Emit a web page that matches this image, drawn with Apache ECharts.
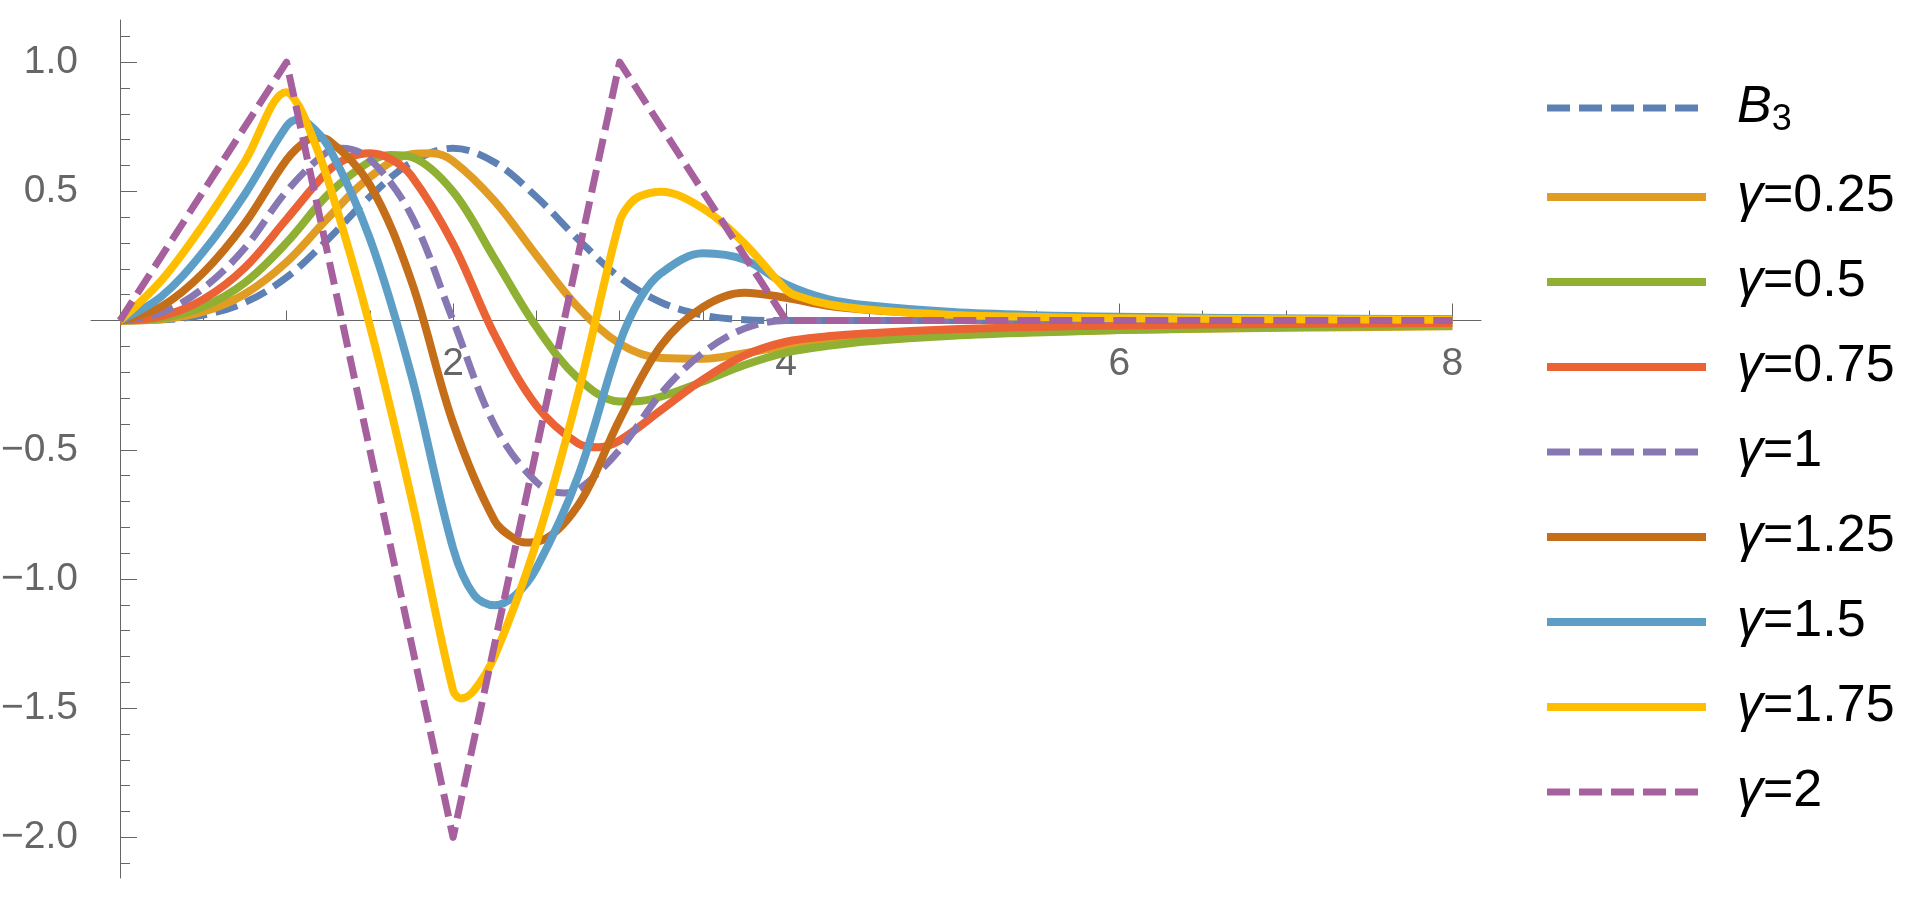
<!DOCTYPE html>
<html>
<head>
<meta charset="utf-8">
<script src="https://cdn.jsdelivr.net/npm/echarts@6.0.0/dist/echarts.min.js"></script>
<style>
html, body { margin: 0; padding: 0; background: #fff; }
#main { width: 1918px; height: 900px; }
</style>
</head>
<body>
<div id="main"></div>
<script>
/*---------------数据---分割线--------------------*/
// 刻度
var xMajor = [2, 4, 6, 8];
var xMinor = [0.5, 1, 1.5, 2.5, 3, 3.5, 4.5, 5, 5.5, 6.5, 7, 7.5];
var yMajor = [-2, -1.5, -1, -0.5, 0.5, 1];
var yMinor = [-2.1, -1.9, -1.8, -1.7, -1.6, -1.4, -1.3, -1.2, -1.1, -0.9, -0.8, -0.7, -0.6,
	-0.4, -0.3, -0.2, -0.1, 0.1, 0.2, 0.3, 0.4, 0.6, 0.7, 0.8, 0.9, 1.1];

var names = ['B3', 'γ=0.25', 'γ=0.5', 'γ=0.75', 'γ=1', 'γ=1.25', 'γ=1.5', 'γ=1.75', 'γ=2'];
var colors = ['#5E81B5', '#E19C24', '#8FB032', '#EB6235', '#8778B3', '#C56E1A', '#5D9EC7', '#FFBF00', '#A5609D'];
var dashed = [true, false, false, false, true, false, false, false, true];

// [x, y]
var b3 = [[0, 0], [0.25, 0.003], [0.5, 0.021], [0.75, 0.070], [1, 0.167], [1.25, 0.315], [1.5, 0.479],
	[1.75, 0.612], [2, 0.667], [2.25, 0.612], [2.5, 0.479], [2.75, 0.315], [3, 0.167], [3.25, 0.070],
	[3.5, 0.021], [3.75, 0.003], [4, 0], [8, 0]];
var g025 = [[0, 0], [0.25, 0.005], [0.5, 0.034], [0.75, 0.103], [1, 0.226], [1.25, 0.398], [1.5, 0.555],
	[1.75, 0.644], [1.875, 0.647], [2, 0.617], [2.25, 0.462], [2.5, 0.253], [2.75, 0.052], [3, -0.089],
	[3.25, -0.145], [3.5, -0.148], [3.75, -0.126], [4, -0.100], [4.25, -0.083], [4.5, -0.071],
	[5, -0.055], [5.5, -0.044], [6, -0.037], [7, -0.028], [8, -0.022]];
var g05 = [[0, 0], [0.25, 0.009], [0.5, 0.053], [0.75, 0.147], [1, 0.301], [1.25, 0.488], [1.5, 0.616],
	[1.625, 0.641], [1.75, 0.633], [2, 0.499], [2.25, 0.239], [2.5, -0.024], [2.75, -0.223], [3, -0.313],
	[3.125, -0.311], [3.25, -0.294], [3.5, -0.236], [3.75, -0.172], [4, -0.124], [4.25, -0.098],
	[4.5, -0.080], [5, -0.059], [5.5, -0.046], [6, -0.037], [7, -0.026], [8, -0.020]];
var g075 = [[0, 0], [0.25, 0.017], [0.5, 0.082], [0.75, 0.205], [1, 0.392], [1.25, 0.579], [1.375, 0.630],
	[1.5, 0.647], [1.625, 0.625], [1.75, 0.560], [2, 0.297], [2.25, -0.056], [2.5, -0.329], [2.75, -0.475],
	[2.875, -0.490], [3, -0.464], [3.25, -0.346], [3.5, -0.228], [3.75, -0.135], [4, -0.082],
	[4.25, -0.061], [4.5, -0.049], [5, -0.034], [5.5, -0.025], [6, -0.019], [7, -0.013], [8, -0.009]];
var g1 = [[0, 0], [0.25, 0.031], [0.5, 0.125], [0.75, 0.281], [1, 0.5], [1.25, 0.656], [1.333, 0.667],
	[1.5, 0.625], [1.75, 0.406], [2, 0], [2.25, -0.406], [2.5, -0.625], [2.667, -0.667], [2.75, -0.656],
	[3, -0.5], [3.25, -0.281], [3.5, -0.125], [3.75, -0.031], [4, 0], [8, 0]];
var g125 = [[0, 0], [0.25, 0.055], [0.5, 0.185], [0.75, 0.376], [1, 0.622], [1.125, 0.699], [1.1875, 0.707],
	[1.25, 0.699], [1.5, 0.525], [1.75, 0.152], [2, -0.396], [2.25, -0.775], [2.375, -0.847],
	[2.4375, -0.859], [2.5, -0.857], [2.75, -0.716], [3, -0.383], [3.25, -0.096], [3.5, 0.052],
	[3.75, 0.108], [4, 0.088], [4.25, 0.057], [4.5, 0.041], [5, 0.025], [5.5, 0.017], [6, 0.012],
	[7, 0.007], [8, 0.005]];
var g15 = [[0, 0], [0.25, 0.094], [0.5, 0.266], [0.75, 0.489], [1, 0.752], [1.0667, 0.777], [1.125, 0.765],
	[1.25, 0.675], [1.5, 0.318], [1.75, -0.213], [2, -0.881], [2.125, -1.061], [2.25, -1.102],
	[2.375, -1.062], [2.5, -0.959], [2.75, -0.604], [3, -0.088], [3.125, 0.087], [3.25, 0.184],
	[3.5, 0.260], [3.75, 0.235], [4, 0.140], [4.25, 0.083], [4.5, 0.058], [5, 0.033], [5.5, 0.021],
	[6, 0.015], [7, 0.008], [8, 0.005]];
var g175 = [[0, 0], [0.25, 0.156], [0.5, 0.371], [0.75, 0.616], [1, 0.883], [1.0625, 0.842], [1.125, 0.760],
	[1.25, 0.542], [1.5, -0.019], [1.75, -0.688], [2, -1.431], [2.048, -1.462], [2.125, -1.432],
	[2.25, -1.298], [2.5, -0.860], [2.75, -0.284], [3, 0.384], [3.0625, 0.452], [3.125, 0.482],
	[3.25, 0.498], [3.5, 0.434], [3.75, 0.298], [4, 0.119], [4.0625, 0.096], [4.25, 0.063], [4.5, 0.042],
	[5, 0.022], [5.5, 0.014], [6, 0.009], [7, 0.005], [8, 0.003]];
var g2 = [[0, 0], [1, 1], [2, -2], [3, 1], [4, 0], [8, 0]];

var allData = [b3, g025, g05, g075, g1, g125, g15, g175, g2];

/*---------------设置---分割线--------------------*/
var font = '"Liberation Sans", Arial, sans-serif';
var gray = '#666666';

function setSeries() {
	var series = [];
	allData.forEach(function (data, i) {
		series.push({
			name: names[i],
			type: 'line',
			xAxisIndex: 0,
			yAxisIndex: 0,
			data: data,
			symbol: 'none',
			smooth: i === 8 ? false : 0.35,
			silent: true,
			lineStyle: {
				color: colors[i],
				width: dashed[i] ? 7 : 8,
				type: dashed[i] ? [23, 9] : 'solid',
				cap: 'butt',
				join: 'round'
			},
			itemStyle: { color: colors[i] },
			emphasis: { disabled: true }
		});
	});
	return series;
}

function yFmt(v) {
	return (v < 0 ? '\u2212' : '') + Math.abs(v).toFixed(1);
}

echarts.init(document.getElementById('main')).setOption({
	backgroundColor: '#ffffff',
	animation: false,
	grid: {
		left: 91,
		top: 20,
		width: 1390,
		height: 858,
		outerBoundsMode: 'none'
	},
	legend: {
		data: names,
		orient: 'vertical',
		left: 1543,
		top: 78,
		padding: 0,
		itemWidth: 159,
		itemHeight: 8,
		itemGap: 33,
		selectedMode: false,
		itemStyle: { opacity: 0 },
		lineStyle: { width: 'inherit' },
		formatter: function (name) {
			if (name === 'B3') {
				return '{sp| }{b|B}{s|3}';
			}
			return '{sp| }{g|γ}{n|' + name.slice(1) + '}';
		},
		textStyle: {
			fontFamily: font,
			fontSize: 52,
			color: '#000',
			rich: {
				sp: { width: 26, fontSize: 52, lineHeight: 60 },
				b: { fontStyle: 'italic', fontSize: 52, lineHeight: 60, fontFamily: font, color: '#000' },
				g: { fontStyle: 'italic', fontSize: 52, lineHeight: 60, fontFamily: font, color: '#000' },
				n: { fontSize: 52, lineHeight: 60, fontFamily: font, color: '#000' },
				s: { fontSize: 36, lineHeight: 36, padding: [24, 0, 0, 0], verticalAlign: 'bottom', fontFamily: font, color: '#000' }
			}
		}
	},
	xAxis: [{
		type: 'value',
		position: 'bottom',
		min: -0.174,
		max: 8.172,
		axisLine: { show: true, onZero: true, onZeroAxisIndex: 0, lineStyle: { color: gray, width: 1 } },
		axisTick: { show: true, inside: true, length: 17, customValues: xMajor, lineStyle: { color: gray, width: 1 } },
		axisLabel: { show: true, customValues: xMajor, margin: -533, fontSize: 39, color: gray, fontFamily: font },
		splitLine: { show: false }
	}, {
		type: 'value',
		position: 'bottom',
		min: -0.174,
		max: 8.172,
		axisLine: { show: false, onZero: true, onZeroAxisIndex: 0 },
		axisTick: { show: true, inside: true, length: 10, customValues: xMinor, lineStyle: { color: gray, width: 1 } },
		axisLabel: { show: false },
		splitLine: { show: false }
	}],
	yAxis: [{
		type: 'value',
		position: 'left',
		min: -2.157,
		max: 1.163,
		axisLine: { show: true, onZero: true, onZeroAxisIndex: 0, lineStyle: { color: gray, width: 1 } },
		axisTick: { show: true, inside: true, length: 17, customValues: yMajor, lineStyle: { color: gray, width: 1 } },
		axisLabel: { show: true, customValues: yMajor, formatter: yFmt, margin: 13, fontSize: 39, color: gray, fontFamily: font },
		splitLine: { show: false }
	}, {
		type: 'value',
		position: 'left',
		min: -2.157,
		max: 1.163,
		axisLine: { show: false, onZero: true, onZeroAxisIndex: 0 },
		axisTick: { show: true, inside: true, length: 10, customValues: yMinor, lineStyle: { color: gray, width: 1 } },
		axisLabel: { show: false },
		splitLine: { show: false }
	}],
	series: setSeries()
});
</script>
</body>
</html>
